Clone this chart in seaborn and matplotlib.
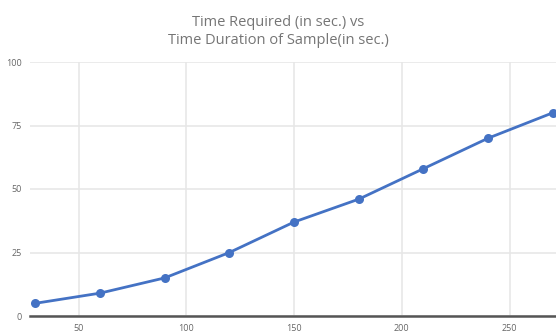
import matplotlib
matplotlib.use("Agg")
import matplotlib.pyplot as plt
import seaborn as sns
import pandas as pd

duration = [30, 60, 90, 120, 150, 180, 210, 240, 270]
required = [5, 9, 15, 25, 37, 46, 58, 70, 80]
x_ticks = [50, 100, 150, 200, 250]
y_ticks = [0, 25, 50, 75, 100]
title = "Time Required (in sec.) vs\nTime Duration of Sample(in sec.)"

df = pd.DataFrame({"duration": duration, "required": required})

sns.set_theme(style="white")
plt.rcParams['font.family'] = ['Open Sans', 'DejaVu Sans']

fig = plt.figure(figsize=(5.56, 3.35), dpi=100)
ax = fig.add_axes([30/556, 19/335, 526/556, 254/335])

sns.lineplot(data=df, x="duration", y="required", ax=ax, color="#4472c4",
             linewidth=2.0, marker="o", markersize=6.5, markeredgewidth=0,
             clip_on=False)

ax.set_xlim(27.5, 271.5)
ax.set_ylim(0, 100)
ax.set_xticks(x_ticks)
ax.set_yticks(y_ticks)
ax.grid(True, color="#e6e6e6", linewidth=1.1)
ax.set_axisbelow(True)
for s in ["left", "right", "top"]:
    ax.spines[s].set_visible(False)
ax.spines["bottom"].set_color("#555555")
ax.spines["bottom"].set_linewidth(1.8)
ax.tick_params(axis="both", length=0, labelsize=6.5, labelcolor="#666666")
ax.tick_params(axis="x", pad=6)
ax.tick_params(axis="y", pad=6)
ax.set_xlabel("")
ax.set_ylabel("")

fig.text(0.5, 0.955, title, ha="center", va="top", fontsize=10.5,
         color="#757575", linespacing=1.25)

fig.savefig("out.png", dpi=100)
